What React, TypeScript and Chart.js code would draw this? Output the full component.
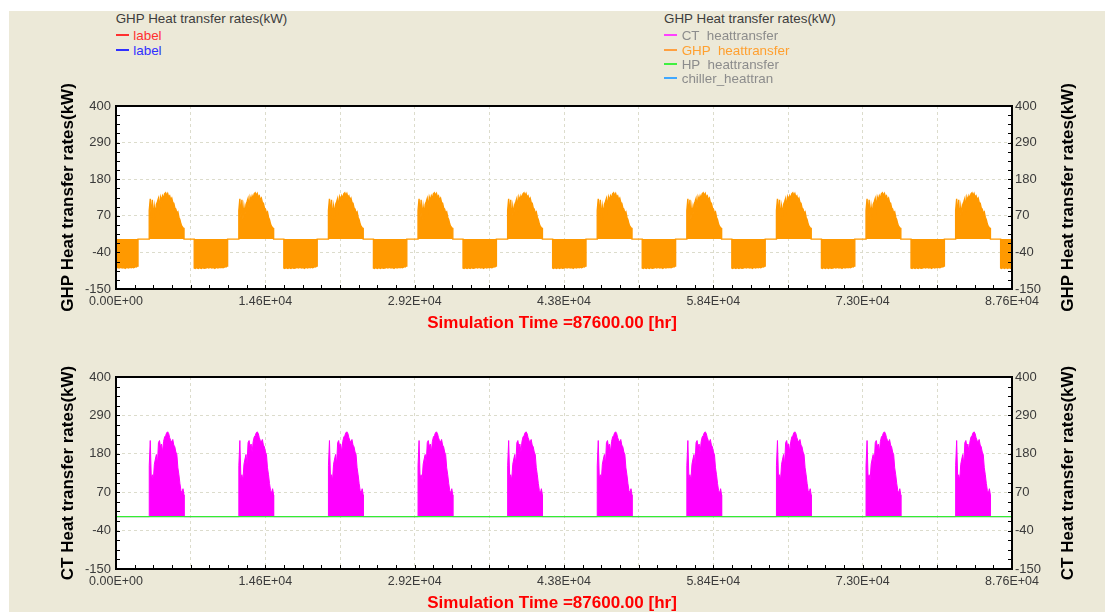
import React, { useEffect, useRef } from 'react';
import { Chart, registerables } from 'chart.js';

Chart.register(...registerables);

const FONT = "'Liberation Sans', Arial, Helvetica, sans-serif";

// ---------------- data (kW vs simulation hour) ----------------
const YEAR_HOURS = 8760;
const SIM_YEARS = 10;
const SIM_END = 87600;
const SAMPLE_STEP = 100; // hours between read samples

// GHP heat transfer, winter part at the start of each year (hour 0 .. 2100)
const ghpWinterStart = [-84, -86, -85, -87, -86, -85, -87, -86, -86, -88, -86, -85, -87, -86, -85, -86, -84, -86, -85, -83, -84, -81];
const WINTER_START_END_HOUR = 2150;

// summer season (hour 3250 .. 6650 of each year)
const SUMMER_START_HOUR = 3250;
const SUMMER_END_HOUR = 6650;
const ghpSummer = [86, 121, 66, 118, 60, 98, 74, 104, 112, 122, 94, 126, 116, 130, 122, 136, 139, 131, 137, 126, 130, 118, 123, 110, 108, 94, 90, 78, 82, 66, 58, 45, 38, 34, 32];

// GHP winter part at the end of each year (hour 7650 .. 8750)
const WINTER_END_START_HOUR = 7650;
const ghpWinterEnd = [-87, -88, -86, -87, -88, -86, -87, -88, -86, -87, -88, -87];

// CT heat transfer during summer (hour 3250 .. 6650 of each year)
const ctSummer = [146, 218, 110, 120, 105, 150, 165, 178, 150, 212, 218, 200, 208, 185, 215, 228, 232, 240, 243, 238, 226, 218, 214, 221, 205, 200, 185, 178, 140, 120, 95, 75, 68, 80, 62];

// HP heat transfer (flat zero)
const hpHours = [0, 87600];
const hpValues = [0, 0];

// axes
const Y_MIN = -150;
const Y_MAX = 400;
const Y_STEP = 110;
const Y_MINOR = 27.5;
const X_GRID_STEP = 7300;
const X_MINOR = 1825;
const xLabelHours = [0, 14600, 29200, 43800, 58400, 73000, 87600];
const xLabels = ['0.00E+00', '1.46E+04', '2.92E+04', '4.38E+04', '5.84E+04', '7.30E+04', '8.76E+04'];

// ---------------- colours ----------------
const ORANGE = '#FF9900';
const MAGENTA = '#FF00FF';
const GREEN = '#33EE33';
const GRID = '#DCDCCC';
const TICK = '#3a3a3a';
const BEIGE = '#ECE9D8';

type P = { x: number; y: number };

function buildGhp(): P[] {
  const pts: P[] = [];
  for (let yr = 0; yr < SIM_YEARS; yr++) {
    const base = yr * YEAR_HOURS;
    ghpWinterStart.forEach((v, i) => pts.push({ x: base + i * SAMPLE_STEP, y: v }));
    pts.push({ x: base + WINTER_START_END_HOUR, y: ghpWinterStart[ghpWinterStart.length - 1] });
    pts.push({ x: base + WINTER_START_END_HOUR, y: 0 });
    pts.push({ x: base + SUMMER_START_HOUR, y: 0 });
    ghpSummer.forEach((v, i) => pts.push({ x: base + SUMMER_START_HOUR + i * SAMPLE_STEP, y: v }));
    pts.push({ x: base + SUMMER_END_HOUR, y: 0 });
    pts.push({ x: base + WINTER_END_START_HOUR, y: 0 });
    ghpWinterEnd.forEach((v, i) => pts.push({ x: base + WINTER_END_START_HOUR + i * SAMPLE_STEP, y: v }));
  }
  return pts;
}

function buildCt(): P[] {
  const pts: P[] = [];
  for (let yr = 0; yr < SIM_YEARS; yr++) {
    const base = yr * YEAR_HOURS;
    pts.push({ x: base, y: 0 });
    pts.push({ x: base + SUMMER_START_HOUR, y: 0 });
    ctSummer.forEach((v, i) => pts.push({ x: base + SUMMER_START_HOUR + i * SAMPLE_STEP, y: v }));
    pts.push({ x: base + SUMMER_END_HOUR, y: 0 });
  }
  pts.push({ x: SIM_END, y: 0 });
  return pts;
}

function buildHp(): P[] {
  return hpHours.map((h, i) => ({ x: h, y: hpValues[i] }));
}

function framePlugin(yTitle: string) {
  return {
    id: 'frame',
    beforeDraw(chart: any) {
      const { ctx, chartArea: a } = chart;
      ctx.save();
      ctx.fillStyle = '#ffffff';
      ctx.fillRect(a.left, a.top, a.right - a.left, a.bottom - a.top);
      ctx.restore();
    },
    afterDraw(chart: any) {
      const { ctx, chartArea: a, scales } = chart;
      const xs = scales.x;
      const ys = scales.y;
      ctx.save();
      ctx.strokeStyle = '#000';
      ctx.lineWidth = 1;
      ctx.beginPath();
      for (let v = Y_MIN; v <= Y_MAX + 1e-6; v += Y_MINOR) {
        const py = Math.round(ys.getPixelForValue(v)) + 0.5;
        ctx.moveTo(a.left, py);
        ctx.lineTo(a.left + 4, py);
        ctx.moveTo(a.right - 4, py);
        ctx.lineTo(a.right, py);
      }
      for (let h = 0; h <= SIM_END; h += X_MINOR) {
        const px = Math.round(xs.getPixelForValue(h)) + 0.5;
        ctx.moveTo(px, a.bottom);
        ctx.lineTo(px, a.bottom - 4);
      }
      ctx.stroke();
      ctx.lineWidth = 2;
      ctx.strokeRect(a.left, a.top, a.right - a.left, a.bottom - a.top);

      const cy = (a.top + a.bottom) / 2;
      ctx.fillStyle = '#000';
      ctx.font = `bold 17px ${FONT}`;
      ctx.textAlign = 'center';
      ctx.textBaseline = 'alphabetic';
      // left title
      ctx.save();
      ctx.translate(a.left - 43.5, cy);
      ctx.rotate(-Math.PI / 2);
      ctx.fillText(yTitle, 0, 0);
      ctx.restore();
      // right title
      ctx.save();
      ctx.translate(a.right + 61, cy);
      ctx.rotate(-Math.PI / 2);
      ctx.fillText(yTitle, 0, 0);
      ctx.restore();
      // x title
      ctx.fillStyle = '#FF0000';
      ctx.fillText('Simulation Time =87600.00 [hr]', a.left + 436, a.bottom + 38.5);
      ctx.restore();
    },
  };
}

type PanelProps = {
  left: number;
  top: number;
  width: number;
  height: number;
  area: { left: number; right: number; top: number; bottom: number };
  kind: 'ghp' | 'ct';
  yTitle: string;
};

function ChartPanel({ left, top, width, height, area, kind, yTitle }: PanelProps) {
  const ref = useRef<HTMLCanvasElement>(null);
  useEffect(() => {
    const canvas = ref.current;
    if (!canvas) return;
    const datasets: any[] =
      kind === 'ghp'
        ? [
            {
              label: 'GHP  heattransfer',
              data: buildGhp(),
              borderColor: ORANGE,
              backgroundColor: ORANGE,
              borderWidth: 1.4,
              fill: 'origin',
              pointRadius: 0,
            },
          ]
        : [
            {
              label: 'HP  heattransfer',
              data: buildHp(),
              borderColor: GREEN,
              borderWidth: 1.4,
              fill: false,
              pointRadius: 0,
              order: 0,
            },
            {
              label: 'CT  heattransfer',
              data: buildCt(),
              borderColor: MAGENTA,
              backgroundColor: MAGENTA,
              borderWidth: 1,
              fill: 'origin',
              pointRadius: 0,
              order: 1,
            },
          ];
    const tickFont = { family: FONT, size: 13 };
    const chart = new Chart(canvas, {
      type: 'line',
      data: { datasets },
      options: {
        responsive: false,
        animation: false,
        devicePixelRatio: 1,
        events: [],
        layout: { padding: { top: area.top, left: 0, right: 0, bottom: 0 } },
        plugins: {
          legend: { display: false },
          tooltip: { enabled: false },
          title: { display: false },
        },
        elements: { point: { radius: 0 }, line: { tension: 0 } },
        scales: {
          x: {
            type: 'linear',
            position: 'bottom',
            min: 0,
            max: SIM_END,
            afterFit: (s: any) => {
              s.height = height - area.bottom;
            },
            ticks: {
              stepSize: X_GRID_STEP,
              autoSkip: false,
              maxRotation: 0,
              minRotation: 0,
              padding: 5.5,
              color: TICK,
              font: { family: FONT, size: 12.5 },
              callback: (v: any) => {
                const idx = xLabelHours.indexOf(Number(v));
                return idx >= 0 ? xLabels[idx] : '';
              },
            },
            grid: { color: GRID, drawTicks: false, lineWidth: 1 },
            border: { display: false, dash: [3, 3] },
          },
          y: {
            type: 'linear',
            position: 'left',
            min: Y_MIN,
            max: Y_MAX,
            afterFit: (s: any) => {
              s.width = area.left;
            },
            ticks: { stepSize: Y_STEP, padding: 5, color: TICK, font: tickFont },
            grid: { color: GRID, drawTicks: false, lineWidth: 1 },
            border: { display: false, dash: [3, 3] },
          },
          y2: {
            type: 'linear',
            position: 'right',
            min: Y_MIN,
            max: Y_MAX,
            afterFit: (s: any) => {
              s.width = width - area.right;
            },
            ticks: { stepSize: Y_STEP, padding: 3, color: TICK, font: tickFont },
            grid: { display: false, drawTicks: false },
            border: { display: false },
          },
        },
      } as any,
      plugins: [framePlugin(yTitle)],
    });
    return () => chart.destroy();
  }, []);
  return (
    <canvas
      ref={ref}
      width={width}
      height={height}
      style={{ position: 'absolute', left, top, width, height, display: 'block' }}
    />
  );
}

function Txt({ x, baseline, color, text }: { x: number; baseline: number; color: string; text: string }) {
  return (
    <div
      style={{
        position: 'absolute',
        left: x,
        top: baseline - 12.6,
        fontSize: 13.4,
        lineHeight: '16px',
        color,
        whiteSpace: 'pre',
        fontFamily: FONT,
      }}
    >
      {text}
    </div>
  );
}

function Mark({ x, y, color }: { x: number; y: number; color: string }) {
  return <div style={{ position: 'absolute', left: x, top: y, width: 13, height: 1.5, background: color }} />;
}

export default function App() {
  return (
    <div
      style={{
        position: 'absolute',
        left: 0,
        top: 0,
        width: 1105,
        height: 612,
        overflow: 'hidden',
        background: '#ffffff',
        fontFamily: FONT,
      }}
    >
      <div style={{ position: 'absolute', left: 9, top: 11, right: 0, bottom: 0, background: BEIGE }} />

      <ChartPanel
        left={30}
        top={75}
        width={1070}
        height={265}
        area={{ left: 86, right: 982, top: 31, bottom: 214 }}
        kind="ghp"
        yTitle="GHP Heat transfer rates(kW)"
      />
      <ChartPanel
        left={30}
        top={345}
        width={1070}
        height={267}
        area={{ left: 86, right: 982, top: 32, bottom: 224 }}
        kind="ct"
        yTitle="CT Heat transfer rates(kW)"
      />

      {/* left legend */}
      <Txt x={115.7} baseline={24} color="#3c3c3c" text="GHP Heat transfer rates(kW)" />
      <Mark x={116} y={34} color="#FF3030" />
      <Txt x={133.3} baseline={40.7} color="#FF3030" text="label" />
      <Mark x={116} y={49} color="#3030FF" />
      <Txt x={133.3} baseline={55.5} color="#3030FF" text="label" />

      {/* right legend */}
      <Txt x={664} baseline={24} color="#3c3c3c" text="GHP Heat transfer rates(kW)" />
      <Mark x={664} y={34} color="#FF40FF" />
      <Txt x={681.7} baseline={40.7} color="#8c8c8c" text="CT  heattransfer" />
      <Mark x={664} y={49} color="#FFA040" />
      <Txt x={681.7} baseline={55.5} color="#FFA030" text="GHP  heattransfer" />
      <Mark x={664} y={63} color="#40F040" />
      <Txt x={681.7} baseline={69.2} color="#8c8c8c" text="HP  heattransfer" />
      <Mark x={664} y={77} color="#40A8FF" />
      <Txt x={681.7} baseline={83.4} color="#8c8c8c" text="chiller_heattran" />
    </div>
  );
}
